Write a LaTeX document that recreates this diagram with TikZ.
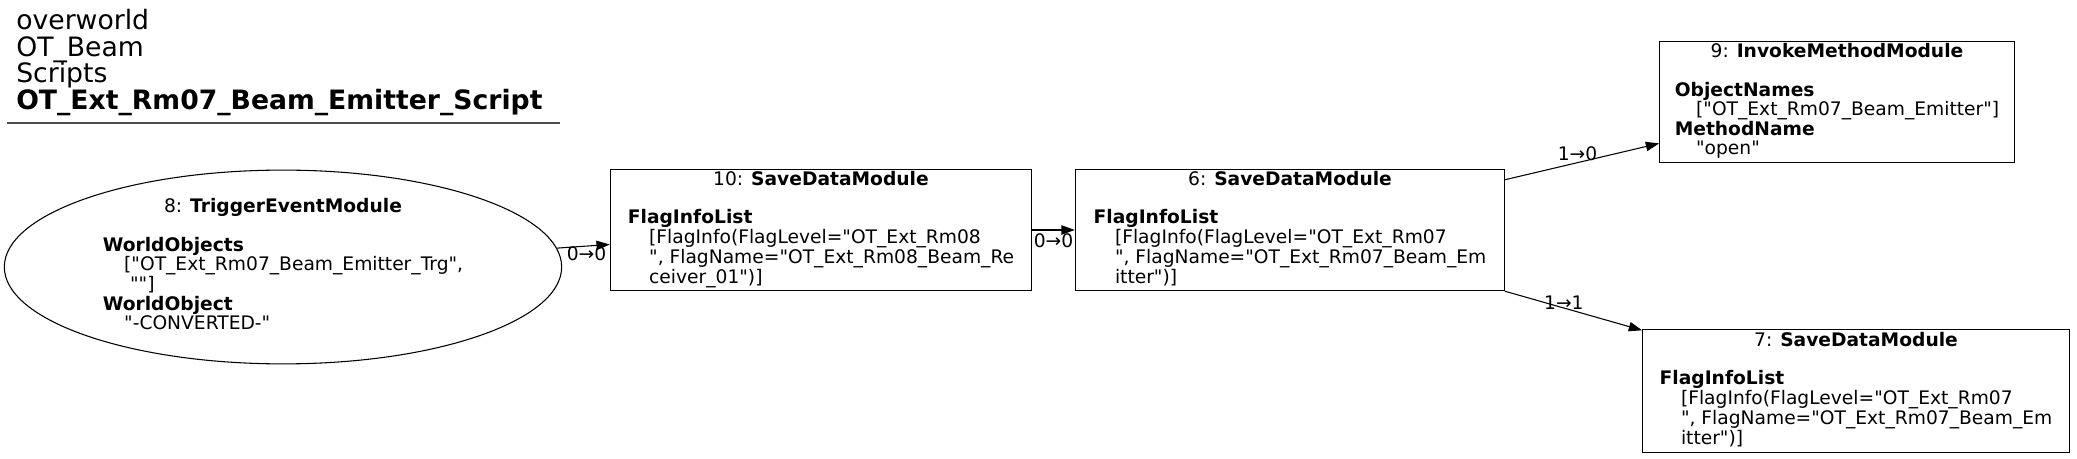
\documentclass[tikz,border=0pt]{standalone}
\usepackage{fontspec}
\setmainfont{DejaVu Sans}[Ligatures=TeXOff]
\usetikzlibrary{arrows.meta,shapes.geometric}
\newcommand{\pind}{\hspace*{16pt}}
\renewcommand{\arraystretch}{1}

\begin{document}
\begin{tikzpicture}[x=0.75pt,y=-0.75pt]
			\tikzset{
				module/.style={rectangle, draw=black, line width=0.8pt, text=black, fill=white, inner sep=0pt, align=center, font=\fontsize{14pt}{14pt}\selectfont},
				trigger/.style={ellipse, draw=black, line width=0.8pt, text=black, fill=white, inner sep=0pt, align=center, font=\fontsize{14pt}{14pt}\selectfont},
				flow/.style={black, line width=0.8pt, -{Triangle[length=10pt,width=7pt]}},
				lbl/.style={inner sep=1pt, font=\fontsize{14pt}{14pt}\selectfont}
			}
			
			\useasboundingbox (0,0) rectangle (2077,459);
			
			\node[anchor=north west, align=left, inner sep=0pt,
			font=\fontsize{20pt}{20pt}\selectfont] (title) at (16,9)
			{overworld\\OT\_Beam\\Scripts\\\textbf{OT\_Ext\_Rm07\_Beam\_Emitter\_Script}};
			\draw[black!70, line width=1.2pt] (7,123) -- (560,123);
			
			\node[trigger,
			minimum width = 418pt,
			minimum height = 145pt] (m8) at (283,267)
			{\begin{tabular}{@{}l@{}}
					\multicolumn{1}{@{}c@{}}{8: \textbf{TriggerEventModule}}\\ \\
					\textbf{WorldObjects}\\
					\pind["OT\_Ext\_Rm07\_Beam\_Emitter\_Trg",\\
					\pind\ ""]\\
					\textbf{WorldObject}\\
					\pind"-CONVERTED-"
			\end{tabular}};
			
			\node[module,
			minimum width = 316pt,
			minimum height = 91pt] (m10) at (821,230)
			{\begin{tabular}{@{}l@{}}
					\multicolumn{1}{@{}c@{}}{10: \textbf{SaveDataModule}}\\ \\
					\textbf{FlagInfoList}\\
					\pind[FlagInfo(FlagLevel="OT\_Ext\_Rm08\\
					\pind", FlagName="OT\_Ext\_Rm08\_Beam\_Re\\
					\pind ceiver\_01")]
			\end{tabular}};
			
			\node[module,
			minimum width = 322pt,
			minimum height = 91pt] (m6) at (1290,230)
			{\begin{tabular}{@{}l@{}}
					\multicolumn{1}{@{}c@{}}{6: \textbf{SaveDataModule}}\\ \\
					\textbf{FlagInfoList}\\
					\pind[FlagInfo(FlagLevel="OT\_Ext\_Rm07\\
					\pind", FlagName="OT\_Ext\_Rm07\_Beam\_Em\\
					\pind itter")]
			\end{tabular}};
			
			\node[module,
			minimum width = 266pt,
			minimum height = 91pt] (m9) at (1837,102)
			{\begin{tabular}{@{}l@{}}
					\multicolumn{1}{@{}c@{}}{9: \textbf{InvokeMethodModule}}\\ \\
					\textbf{ObjectNames}\\
					\pind["OT\_Ext\_Rm07\_Beam\_Emitter"]\\
					\textbf{MethodName}\\
					\pind"open"
			\end{tabular}};
			
			\node[module,
			minimum width = 320pt,
			minimum height = 92pt] (m7) at (1856,391)
			{\begin{tabular}{@{}l@{}}
					\multicolumn{1}{@{}c@{}}{7: \textbf{SaveDataModule}}\\ \\
					\textbf{FlagInfoList}\\
					\pind[FlagInfo(FlagLevel="OT\_Ext\_Rm07\\
					\pind", FlagName="OT\_Ext\_Rm07\_Beam\_Em\\
					\pind itter")]
			\end{tabular}};
			
			
			\draw[flow] (m8) to node[lbl, pos=0.56, yshift=-6pt] {0→0} (m10);
			\draw[flow] (m10) to node[lbl, pos=0.5, yshift=-8pt] {0→0} (m6);
			\draw[flow] (m6) to node[lbl, pos=0.47, above] {1→0} (m9);
			\draw[flow] (m6) to node[lbl, pos=0.43, yshift=4pt] {1→1} (m7);
			
		\end{tikzpicture}
\end{document}
